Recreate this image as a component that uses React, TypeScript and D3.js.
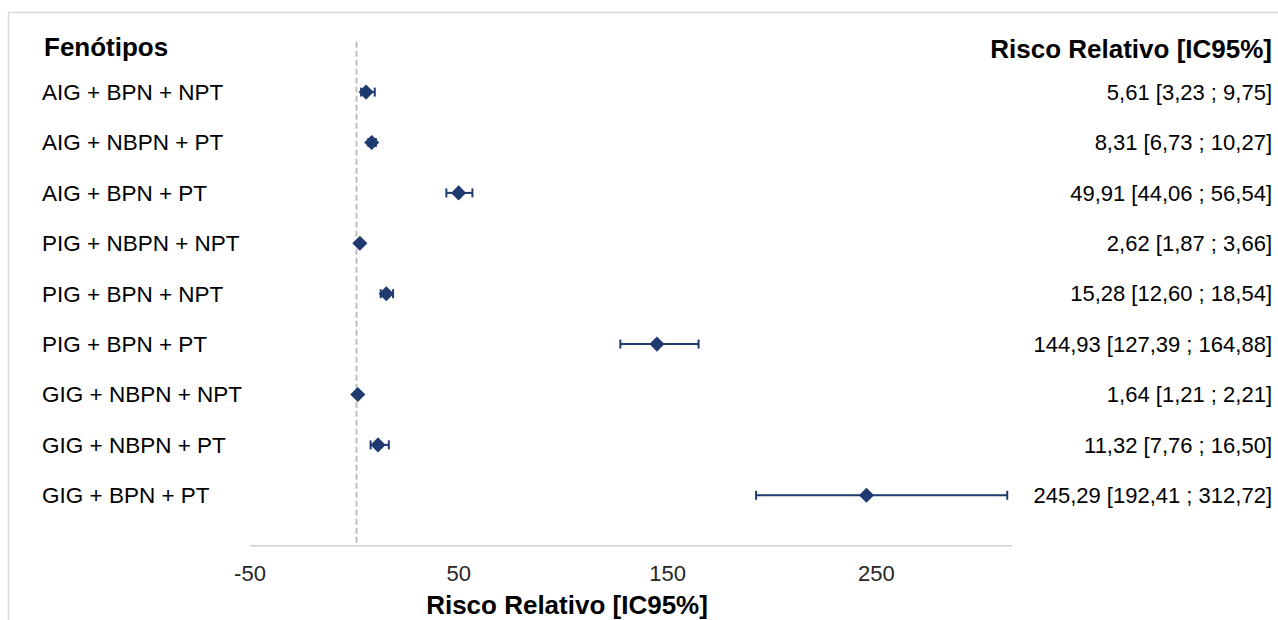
import { useRef, useEffect } from "react";
import * as d3 from "d3";

// phenotype rows, top to bottom
const phenotypes = [
  "AIG + BPN + NPT",
  "AIG + NBPN + PT",
  "AIG + BPN + PT",
  "PIG + NBPN + NPT",
  "PIG + BPN + NPT",
  "PIG + BPN + PT",
  "GIG + NBPN + NPT",
  "GIG + NBPN + PT",
  "GIG + BPN + PT",
];
const rr = [5.61, 8.31, 49.91, 2.62, 15.28, 144.93, 1.64, 11.32, 245.29];
const ciLow = [3.23, 6.73, 44.06, 1.87, 12.6, 127.39, 1.21, 7.76, 192.41];
const ciHigh = [9.75, 10.27, 56.54, 3.66, 18.54, 164.88, 2.21, 16.5, 312.72];
const rrLabels = [
  "5,61 [3,23 ; 9,75]",
  "8,31 [6,73 ; 10,27]",
  "49,91 [44,06 ; 56,54]",
  "2,62 [1,87 ; 3,66]",
  "15,28 [12,60 ; 18,54]",
  "144,93 [127,39 ; 164,88]",
  "1,64 [1,21 ; 2,21]",
  "11,32 [7,76 ; 16,50]",
  "245,29 [192,41 ; 312,72]",
];
const xTicks = [-50, 50, 150, 250];

export default function App() {
  const svgRef = useRef<SVGSVGElement>(null);

  useEffect(() => {
    const svg = d3.select(svgRef.current);
    svg.selectAll("*").remove();

    const width = 1278;
    const height = 620;
    const font = "'Liberation Sans', Arial, sans-serif";
    const navy = "#1f3a6e";

    svg.attr("width", width).attr("height", height);

    const x = d3.scaleLinear().domain([-50, 315]).range([250, 1012]);
    // row index 1..9 from top, axis sits at 10
    const y = d3.scaleLinear().domain([0, 10]).range([41.7, 545.7]);

    // outer frame
    svg
      .append("rect")
      .attr("x", 8.5)
      .attr("y", 12.5)
      .attr("width", 1400)
      .attr("height", 800)
      .attr("fill", "#fff")
      .attr("stroke", "#d9d9d9")
      .attr("stroke-width", 1.5);

    // reference line at RR = 1
    svg
      .append("line")
      .attr("x1", x(1))
      .attr("x2", x(1))
      .attr("y1", y(0))
      .attr("y2", y(10))
      .attr("stroke", "#bfbfbf")
      .attr("stroke-width", 2)
      .attr("stroke-dasharray", "6,3");

    // x axis
    svg
      .append("line")
      .attr("x1", x(-50))
      .attr("x2", x(315))
      .attr("y1", y(10))
      .attr("y2", y(10))
      .attr("stroke", "#d0d0d0")
      .attr("stroke-width", 1.5);

    svg
      .selectAll(".tick-label")
      .data(xTicks)
      .join("text")
      .attr("class", "tick-label")
      .attr("x", (d) => x(d))
      .attr("y", 581)
      .attr("text-anchor", "middle")
      .style("font-family", font)
      .attr("font-size", "22px")
      .attr("fill", "#262626")
      .text((d) => d);

    svg
      .append("text")
      .attr("x", 567)
      .attr("y", 614)
      .attr("text-anchor", "middle")
      .style("font-family", font)
      .attr("font-size", "26px")
      .attr("font-weight", "bold")
      .text("Risco Relativo [IC95%]");

    // headers
    svg
      .append("text")
      .attr("x", 44)
      .attr("y", 56)
      .style("font-family", font)
      .attr("font-size", "26px")
      .attr("font-weight", "bold")
      .text("Fenótipos");

    svg
      .append("text")
      .attr("x", 1272)
      .attr("y", 58)
      .attr("text-anchor", "end")
      .style("font-family", font)
      .attr("font-size", "26px")
      .attr("font-weight", "bold")
      .text("Risco Relativo [IC95%]");

    const rows = phenotypes.map((p, i) => ({
      name: p,
      rr: rr[i],
      lo: ciLow[i],
      hi: ciHigh[i],
      label: rrLabels[i],
      row: i + 1,
    }));

    const g = svg
      .selectAll(".row")
      .data(rows)
      .join("g")
      .attr("class", "row");

    g.append("text")
      .attr("x", 42)
      .attr("y", (d) => y(d.row))
      .attr("dy", "0.35em")
      .style("font-family", font)
      .attr("font-size", "22.5px")
      .text((d) => d.name);

    g.append("text")
      .attr("x", 1272)
      .attr("y", (d) => y(d.row))
      .attr("dy", "0.35em")
      .attr("text-anchor", "end")
      .style("font-family", font)
      .attr("font-size", "22px")
      .text((d) => d.label);

    // error bars
    g.append("line")
      .attr("x1", (d) => x(d.lo))
      .attr("x2", (d) => x(d.hi))
      .attr("y1", (d) => y(d.row))
      .attr("y2", (d) => y(d.row))
      .attr("stroke", navy)
      .attr("stroke-width", 2);

    [
      (d) => d.lo,
      (d) => d.hi,
    ].forEach((acc) => {
      g.append("line")
        .attr("x1", (d) => x(acc(d)))
        .attr("x2", (d) => x(acc(d)))
        .attr("y1", (d) => y(d.row) - 4.5)
        .attr("y2", (d) => y(d.row) + 4.5)
        .attr("stroke", navy)
        .attr("stroke-width", 2);
    });

    // diamond markers (symbolDiamond2 is already a rotated square)
    const diamond = d3.symbol().type(d3.symbolDiamond2).size(145);
    g.append("path")
      .attr("d", diamond)
      .attr("transform", (d) => `translate(${x(d.rr)},${y(d.row)})`)
      .attr("fill", navy);
  }, []);

  return (
    <svg
      ref={svgRef}
      style={{ position: "absolute", left: 0, top: 0, display: "block" }}
    />
  );
}
